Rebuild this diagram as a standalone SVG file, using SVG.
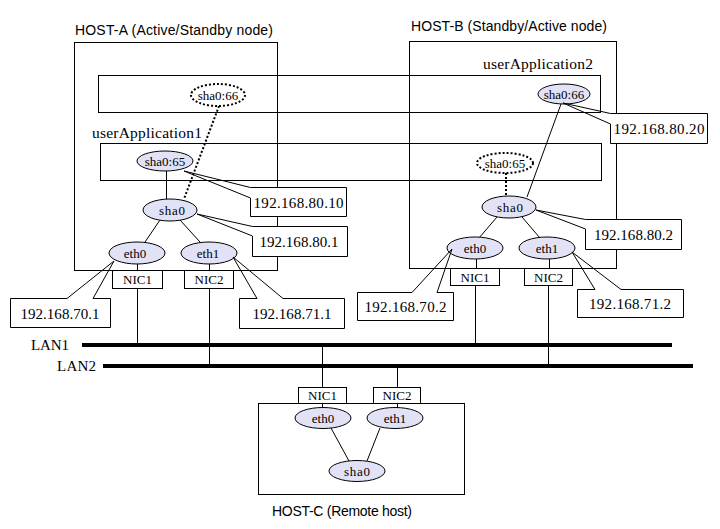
<svg xmlns="http://www.w3.org/2000/svg" width="720" height="529" viewBox="0 0 720 529">
<style>
.bg{fill:#fff}
.box{fill:none;stroke:#000;stroke-width:1}
.nic{fill:#fff;stroke:#000;stroke-width:1}
.ell{fill:#e2e2f6;stroke:#000;stroke-width:1}
.dell{fill:#fff;stroke:#000;stroke-width:2;stroke-dasharray:2 2}
.ln{stroke:#000;stroke-width:1;fill:none}
.dln{stroke:#000;stroke-width:2;stroke-dasharray:2 2;fill:none}
.lan{stroke:#000;stroke-width:4}
.cbox{fill:#fff;stroke:none}
.hl{font-family:"Liberation Sans",Arial,sans-serif;font-size:14px;fill:#000}
.t{font-family:"Liberation Serif","Times New Roman",serif;font-size:13px;fill:#000}
.n{font-size:13px}
.ua{font-size:15.5px}
.lt{font-size:15px}
.ip{font-family:"Liberation Serif","Times New Roman",serif;font-size:15px;fill:#000;text-anchor:middle}
.c{text-anchor:middle}
</style>
<rect class="bg" x="0" y="0" width="720" height="529"/>

<g id="hostA">
<rect class="box" x="74.5" y="42.5" width="203" height="228"/>
<text class="hl" x="75" y="35" textLength="198" lengthAdjust="spacing">HOST-A (Active/Standby node)</text>
</g>
<g id="hostB">
<rect class="box" x="409.5" y="41.5" width="207" height="227"/>
<text class="hl" x="411" y="31" textLength="196" lengthAdjust="spacing">HOST-B (Standby/Active node)</text>
</g>
<g id="hostC">
<rect class="box" x="258.5" y="403.5" width="206" height="91"/>
<text class="hl" x="272" y="516" textLength="140" lengthAdjust="spacing">HOST-C (Remote host)</text>
</g>
<g id="userApplication2">
<rect class="box" x="98.5" y="75.5" width="502" height="37"/>
<text class="t ua" x="483" y="69" textLength="110" lengthAdjust="spacing">userApplication2</text>
</g>
<g id="userApplication1">
<rect class="box" x="100.5" y="143.5" width="501" height="37"/>
<text class="t ua" x="92" y="138" textLength="110" lengthAdjust="spacing">userApplication1</text>
</g>

<g id="lan1">
<line class="lan" x1="82" y1="345" x2="672" y2="345"/>
<text class="t lt" x="31" y="350" textLength="38" lengthAdjust="spacing">LAN1</text>
</g>
<g id="lan2">
<line class="lan" x1="103" y1="366" x2="693" y2="366"/>
<text class="t lt" x="57" y="371" textLength="39" lengthAdjust="spacing">LAN2</text>
</g>

<g id="connectors">
<line class="ln" x1="137.5" y1="288" x2="137.5" y2="345"/>
<line class="ln" x1="209.5" y1="288" x2="209.5" y2="366"/>
<line class="ln" x1="475.5" y1="285" x2="475.5" y2="345"/>
<line class="ln" x1="548.5" y1="285" x2="548.5" y2="366"/>
<line class="ln" x1="322.5" y1="345" x2="322.5" y2="387"/>
<line class="ln" x1="397.5" y1="366" x2="397.5" y2="387"/>

<line class="ln" x1="166.5" y1="171" x2="166.5" y2="199"/>
<line class="ln" x1="160" y1="220" x2="145" y2="242"/>
<line class="ln" x1="180" y1="220" x2="200" y2="242"/>
<line class="ln" x1="137.5" y1="264" x2="137.5" y2="270"/>
<line class="ln" x1="209.5" y1="264" x2="209.5" y2="270"/>
<line class="dln" x1="219" y1="106" x2="184" y2="199"/>

<line class="ln" x1="561" y1="104" x2="527" y2="197"/>
<line class="dln" x1="506" y1="173" x2="506" y2="196"/>
<line class="ln" x1="497" y1="217" x2="479" y2="238"/>
<line class="ln" x1="522" y1="217" x2="540" y2="238"/>
<line class="ln" x1="476.5" y1="259" x2="476.5" y2="268"/>
<line class="ln" x1="549.5" y1="259" x2="549.5" y2="268"/>

<line class="ln" x1="322.5" y1="403" x2="322.5" y2="408"/>
<line class="ln" x1="397.5" y1="403" x2="397.5" y2="408"/>
<line class="ln" x1="331" y1="428" x2="349" y2="461"/>
<line class="ln" x1="380" y1="428" x2="367" y2="461"/>
</g>

<g id="A_nic1"><rect class="nic" x="112.5" y="270.5" width="50" height="18"/><text class="t c" x="137.5" y="284">NIC1</text></g>
<g id="A_nic2"><rect class="nic" x="184.5" y="270.5" width="49" height="18"/><text class="t c" x="209" y="284">NIC2</text></g>
<g id="B_nic1"><rect class="nic" x="450.5" y="268.5" width="49" height="17"/><text class="t c" x="475" y="282">NIC1</text></g>
<g id="B_nic2"><rect class="nic" x="524.5" y="268.5" width="48" height="17"/><text class="t c" x="548.5" y="282">NIC2</text></g>
<g id="C_nic1"><rect class="nic" x="298.5" y="387.5" width="48" height="16"/><text class="t c" x="322.5" y="400">NIC1</text></g>
<g id="C_nic2"><rect class="nic" x="373.5" y="387.5" width="47" height="16"/><text class="t c" x="397" y="400">NIC2</text></g>

<g id="A_sha066"><ellipse class="dell" cx="218" cy="95" rx="27" ry="11"/><text class="t c n" x="218" y="99.5">sha0:66</text></g>
<g id="A_sha065"><ellipse class="ell" cx="165" cy="161" rx="28" ry="10"/><text class="t c n" x="165" y="165.5">sha0:65</text></g>
<g id="A_sha0"><ellipse class="ell" cx="170" cy="210" rx="27" ry="11"/><text class="t c n" x="172" y="214.5" textLength="26" lengthAdjust="spacing">sha0</text></g>
<g id="A_eth0"><ellipse class="ell" cx="137" cy="253" rx="28" ry="11"/><text class="t c n" x="135" y="257.5">eth0</text></g>
<g id="A_eth1"><ellipse class="ell" cx="209" cy="253" rx="28" ry="11"/><text class="t c n" x="208" y="257.5">eth1</text></g>

<g id="B_sha066"><ellipse class="ell" cx="564" cy="94" rx="26" ry="10"/><text class="t c n" x="564" y="98.5">sha0:66</text></g>
<g id="B_sha065"><ellipse class="dell" cx="505" cy="163" rx="28" ry="10"/><text class="t c n" x="505" y="167.5">sha0:65</text></g>
<g id="B_sha0"><ellipse class="ell" cx="509" cy="207" rx="27" ry="11"/><text class="t c n" x="510" y="211.5" textLength="26" lengthAdjust="spacing">sha0</text></g>
<g id="B_eth0"><ellipse class="ell" cx="475" cy="248" rx="28" ry="11"/><text class="t c n" x="475" y="252.5">eth0</text></g>
<g id="B_eth1"><ellipse class="ell" cx="547" cy="248" rx="28" ry="11"/><text class="t c n" x="547" y="252.5">eth1</text></g>

<g id="C_eth0"><ellipse class="ell" cx="323" cy="418" rx="28" ry="10.5"/><text class="t c n" x="323" y="422.5">eth0</text></g>
<g id="C_eth1"><ellipse class="ell" cx="395" cy="418" rx="28" ry="10.5"/><text class="t c n" x="395" y="422.5">eth1</text></g>
<g id="C_sha0"><ellipse class="ell" cx="357" cy="471" rx="28" ry="10.5"/><text class="t c n" x="357" y="475.5" textLength="26" lengthAdjust="spacing">sha0</text></g>

<g id="ip_80_10">
<rect class="cbox" x="250.5" y="187.5" width="96" height="29"/>
<path class="ln" d="M184,171 L250.5,187.5 L346.5,187.5 L346.5,216.5 L250.5,216.5 L250.5,198 Z"/>
<text class="ip" x="298.5" y="207.5" textLength="90" lengthAdjust="spacing">192.168.80.10</text>
</g>
<g id="ip_80_1">
<rect class="cbox" x="252.5" y="226.5" width="95" height="30"/>
<path class="ln" d="M197,214 L252.5,226.5 L347.5,226.5 L347.5,256.5 L252.5,256.5 L252.5,236 Z"/>
<text class="ip" x="299" y="246.5" textLength="79" lengthAdjust="spacing">192.168.80.1</text>
</g>
<g id="ip_70_1">
<rect class="cbox" x="10.5" y="298.5" width="100" height="29"/>
<path class="ln" d="M114,261 L93,298.5 L110.5,298.5 L110.5,327.5 L10.5,327.5 L10.5,298.5 L67,298.5 Z"/>
<text class="ip" x="60" y="318.5" textLength="79" lengthAdjust="spacing">192.168.70.1</text>
</g>
<g id="ip_71_1">
<rect class="cbox" x="239.5" y="298.5" width="105" height="30"/>
<path class="ln" d="M233,257 L283,298.5 L344.5,298.5 L344.5,328.5 L239.5,328.5 L239.5,298.5 L257,298.5 Z"/>
<text class="ip" x="292" y="318.5" textLength="79" lengthAdjust="spacing">192.168.71.1</text>
</g>
<g id="ip_80_20">
<rect class="cbox" x="610.5" y="113.5" width="97" height="30"/>
<path class="ln" d="M563,103 L610.5,113.5 L707.5,113.5 L707.5,143.5 L610.5,143.5 L610.5,124 Z"/>
<text class="ip" x="659" y="133.5" textLength="91" lengthAdjust="spacing">192.168.80.20</text>
</g>
<g id="ip_80_2">
<rect class="cbox" x="585.5" y="219.5" width="96" height="30"/>
<path class="ln" d="M536,210 L585.5,219.5 L681.5,219.5 L681.5,249.5 L585.5,249.5 L585.5,229 Z"/>
<text class="ip" x="633.5" y="239.5" textLength="79" lengthAdjust="spacing">192.168.80.2</text>
</g>
<g id="ip_70_2">
<rect class="cbox" x="357.5" y="292.5" width="96" height="28"/>
<path class="ln" d="M452,249 L437,292.5 L453.5,292.5 L453.5,320.5 L357.5,320.5 L357.5,292.5 L412,292.5 Z"/>
<text class="ip" x="405.5" y="311.5" textLength="82" lengthAdjust="spacing">192.168.70.2</text>
</g>
<g id="ip_71_2">
<rect class="cbox" x="577.5" y="289.5" width="106" height="28"/>
<path class="ln" d="M572,252 L621,289.5 L683.5,289.5 L683.5,317.5 L577.5,317.5 L577.5,289.5 L595,289.5 Z"/>
<text class="ip" x="630" y="308.5" textLength="82" lengthAdjust="spacing">192.168.71.2</text>
</g>
</svg>
